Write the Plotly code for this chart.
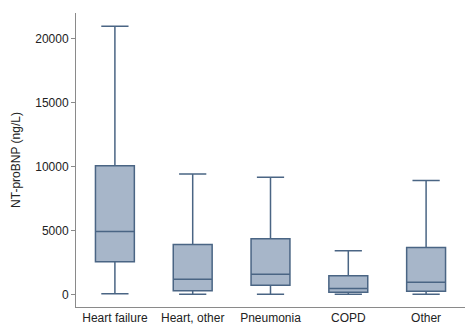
import plotly.graph_objects as go

categories = ["Heart failure", "Heart, other", "Pneumonia", "COPD", "Other"]
lower_whisker = [100, 50, 50, 50, 50]
q1 = [2600, 330, 760, 210, 290]
median = [4950, 1220, 1620, 500, 990]
q3 = [10100, 3950, 4400, 1510, 3700]
upper_whisker = [21000, 9450, 9200, 3450, 8950]
y_ticks = [0, 5000, 10000, 15000, 20000]

fig = go.Figure()
fig.add_trace(go.Box(
    x=categories,
    lowerfence=lower_whisker,
    q1=q1,
    median=median,
    q3=q3,
    upperfence=upper_whisker,
    fillcolor="#A7B6C9",
    line=dict(color="#4A6584", width=1.5),
    whiskerwidth=0.7,
    width=0.5,
    boxpoints=False,
    showlegend=False,
    hoverinfo="skip",
))

fig.update_layout(
    width=470, height=329,
    margin=dict(l=76, r=5, t=13, b=22),
    paper_bgcolor="white",
    plot_bgcolor="white",
    font=dict(family="Liberation Sans, Arial, sans-serif", size=12, color="#222"),
    showlegend=False,
)
fig.update_xaxes(
    range=[-0.5, 4.5],
    showline=True, linecolor="#8a8a8a", linewidth=1,
    ticks="", showgrid=False, zeroline=False,
    tickfont=dict(size=12, color="#222"),
)
fig.update_yaxes(
    range=[-940, 22030],
    tickvals=y_ticks,
    ticktext=[str(v) for v in y_ticks],
    showline=True, linecolor="#8a8a8a", linewidth=1,
    ticks="outside", ticklen=4, tickcolor="#8a8a8a",
    showgrid=False, zeroline=False,
    title=dict(text="NT-proBNP (ng/L)", font=dict(size=12, color="#222"), standoff=12),
    tickfont=dict(size=12, color="#222"),
)

fig.write_html("out.html")
